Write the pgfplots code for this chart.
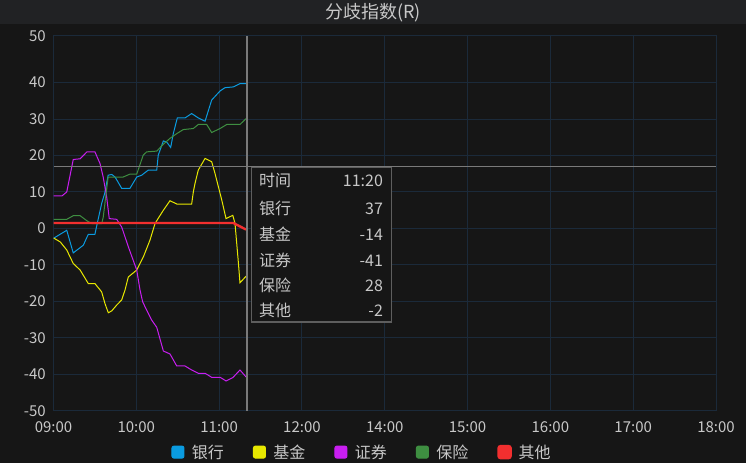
\documentclass[border=0pt]{standalone}
\usepackage{fontspec}
\setmainfont{Noto Sans CJK SC}
\usepackage{pgfplots}
\pgfplotsset{compat=1.18}

\definecolor{bgc}{HTML}{161616}
\definecolor{titlebg}{HTML}{212224}
\definecolor{gridc}{HTML}{1B2A3A}
\definecolor{labelc}{HTML}{C8C8C8}
\definecolor{cursorc}{HTML}{7A7A7A}
\definecolor{tipborder}{HTML}{5E5E5E}
\definecolor{bankc}{HTML}{0A9BE0}
\definecolor{fundc}{HTML}{E8E800}
\definecolor{secc}{HTML}{C81EF0}
\definecolor{insc}{HTML}{3E8E41}
\definecolor{otherc}{HTML}{F22F2F}

\begin{document}
\begin{tikzpicture}[x=1bp,y=1bp]
% background and title bar
\fill[bgc] (0,0) rectangle (746,463);
\fill[titlebg] (0,439) rectangle (746,463);
\node[text=labelc, font=\fontsize{18bp}{20bp}\selectfont] at (373,450.5) {分歧指数(R)};

\begin{axis}[
    at={(53.5bp,52.3bp)}, anchor=south west,
    scale only axis,
    width=662.5bp, height=375bp,
    xmin=0, xmax=480,
    ymin=-50, ymax=52.8,
    xtick={0,60,120,180,240,300,360,420,480},
    xticklabels={09:00,10:00,11:00,12:00,14:00,15:00,16:00,17:00,18:00},
    ytick={-50,-40,-30,-20,-10,0,10,20,30,40,52.8},
    yticklabels={-50,-40,-30,-20,-10,0,10,20,30,40,50},
    grid=major,
    major grid style={gridc, line width=1bp},
    axis line style={gridc, line width=1bp},
    major tick length=0pt,
    tick style={draw=none},
    ticklabel style={font=\fontsize{15bp}{17bp}\selectfont, text=labelc, inner sep=0pt},
    xticklabel style={anchor=center, yshift=-16.3bp},
    yticklabel style={anchor=east, xshift=-7.5bp},
    legend style={at={(0.4657,-0.110)}, anchor=center, draw=none, fill=none,
        legend columns=-1, text=labelc,
        font=\fontsize{16bp}{18bp}\selectfont,
        /tikz/every even column/.append style={column sep=27bp}},
    legend image code/.code={\fill[#1, rounded corners=2bp] (0bp,-6bp) rectangle (12bp,6bp);
        \path[draw=none, fill=none] (18bp,0bp) circle (0pt);},
]
% 银行
\addplot[bankc, line width=1bp] coordinates {
(0,-2.7) (9.6,-0.5) (14.3,-6.7) (21.6,-4.6) (25.2,-1.6) (30,-1.6) (31.7,1.4)
(35,7) (37,9.5) (39.6,14.6) (42.2,14.8) (44.6,14.1) (49.4,11.0) (55.4,11.0)
(60.3,14.1) (63.9,14.6) (68.7,16.0) (74.8,16.0) (75.9,20.1) (79.6,24.0) (82,23.7)
(84.9,22.2) (86.8,26.0) (89.7,30.3) (95.3,30.3) (100.1,31.5) (104.9,30.3)
(109.8,29.4) (114.6,35.2) (120.7,37.7) (124.3,38.6) (130.3,38.8) (135.1,39.7)
(139.5,39.7)};
% 基金
\addplot[fundc, line width=1bp] coordinates {
(0,-2.6) (4.9,-3.7) (9.6,-5.9) (14.3,-9.6) (19.3,-11.4) (25.2,-15.1) (30,-15.1)
(34.9,-17.4) (37.3,-20.6) (39.7,-23.1) (42.2,-22.6) (45.8,-21.0) (49.4,-19.6)
(51.8,-16.9) (54.2,-13.3) (60.3,-11.4) (65.1,-7.8) (69.9,-3.2) (73.6,1.4)
(79.6,5.0) (84.4,7.6) (89.3,6.7) (100.1,6.7) (101.3,10.0) (102.5,12.3)
(104.9,16.0) (109.8,19.2) (114.6,18.3) (117,15.1) (121.9,7.8) (125,2.7)
(129.9,3.6) (131.5,1.4) (134,-9.6) (135.1,-14.9) (139.5,-13.1)};
% 证券
\addplot[secc, line width=1bp] coordinates {
(0,8.9) (6.1,8.9) (9.6,10.0) (14.3,18.9) (19.3,19.1) (24.2,21.0) (30,21.0)
(33.7,17.8) (36,14.1) (38.5,8.7) (40.4,2.7) (45.8,2.5) (49.4,0.4) (54.2,-5.0)
(60.3,-11.4) (62.7,-16.9) (64.6,-20.1) (67.5,-22.4) (71.1,-25.1) (74.8,-27.1)
(79.6,-33.6) (84.4,-34.4) (89.3,-37.7) (95.3,-37.7) (100.1,-38.8) (104.9,-39.7)
(109.8,-39.7) (114.6,-40.8) (120.7,-40.8) (125,-41.8) (129.9,-40.9)
(135.1,-38.8) (139.5,-40.7)};
% 保险
\addplot[insc, line width=1bp] coordinates {
(0,2.5) (9.6,2.5) (14.3,3.5) (19.3,3.5) (24.2,2.1) (28,1.3) (34.9,1.3) (36,3)
(39.6,14.1) (50.5,14.1) (55.4,14.9) (60.3,14.9) (65,20.1) (67.5,21.0) (74.8,21.2)
(79.6,23.1) (84.4,24.7) (89.3,26.0) (94,27.1) (101.3,27.4) (104.9,28.5)
(111,28.5) (114.6,26.3) (120.7,27.4) (125.5,28.5) (135.1,28.5) (139.5,30.1)};
% 其他
\addplot[otherc, line width=2.4bp] coordinates {
(0,1.5) (130.3,1.5) (139.5,-0.3)};
\legend{银行,基金,证券,保险,其他}

% cursor
\addplot[cursorc, line width=1.6bp, forget plot] coordinates {(140,-50) (140,52.8)};
\addplot[cursorc, line width=1.1bp, forget plot] coordinates {(0,17.1) (480,17.1)};

% tooltip
\draw[tipborder, fill=bgc, line width=1.4bp] (axis cs:143.6,16.7) rectangle (axis cs:245.1,-25.6);
\begin{scope}[every node/.style={text=labelc, font=\fontsize{16bp}{18bp}\selectfont,
    inner sep=0pt, text height=11.5bp, text depth=2bp}]
\node[anchor=west] at (axis cs:148.9,12.7) {时间};
\node[anchor=west] at (axis cs:148.9,5.2) {银行};
\node[anchor=west] at (axis cs:148.9,-1.9) {基金};
\node[anchor=west] at (axis cs:148.9,-9.2) {证券};
\node[anchor=west] at (axis cs:148.9,-16.0) {保险};
\node[anchor=west] at (axis cs:148.9,-22.9) {其他};
\node[anchor=east] at (axis cs:238.8,12.7) {11:20};
\node[anchor=east] at (axis cs:238.8,5.2) {37};
\node[anchor=east] at (axis cs:238.8,-1.9) {-14};
\node[anchor=east] at (axis cs:238.8,-9.2) {-41};
\node[anchor=east] at (axis cs:238.8,-16.0) {28};
\node[anchor=east] at (axis cs:238.8,-22.9) {-2};
\end{scope}
\end{axis}
\end{tikzpicture}
\end{document}
